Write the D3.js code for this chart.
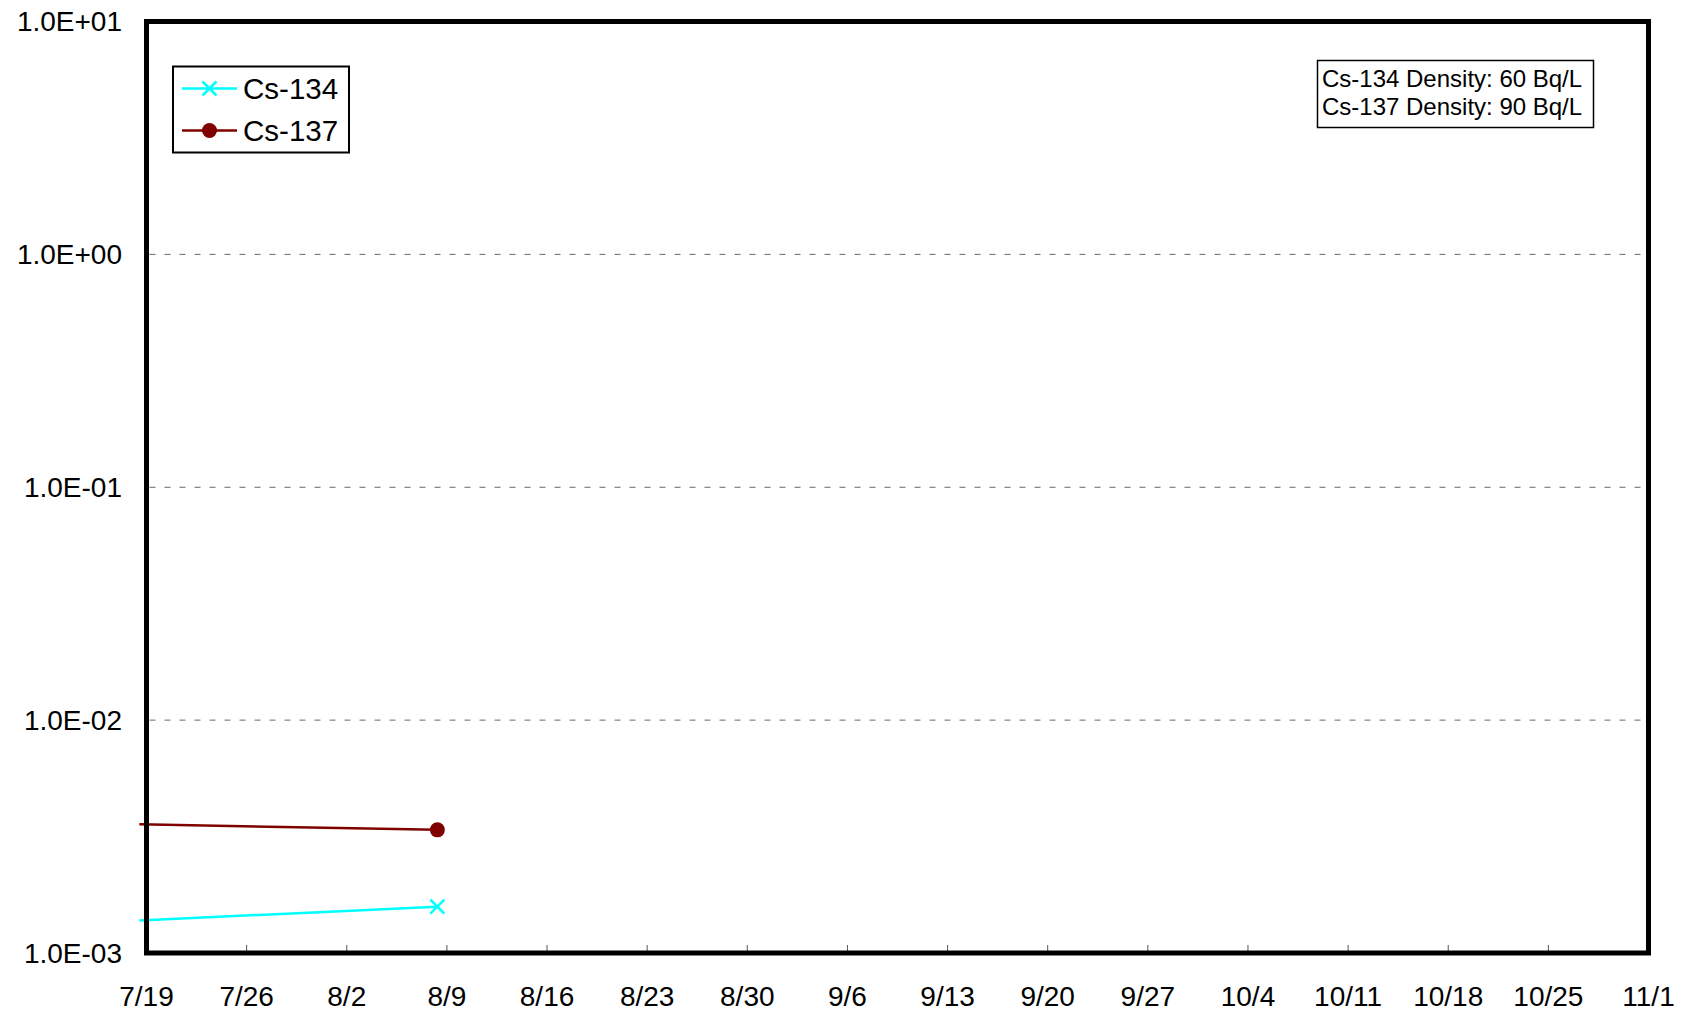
<!DOCTYPE html>
<html>
<head>
<meta charset="utf-8">
<script src="https://cdn.jsdelivr.net/npm/d3@7"></script>
<style>
  body { margin: 0; background: #fff; }
  text { font-family: "Liberation Sans", Arial, sans-serif; fill: #000; }
</style>
</head>
<body>
<svg id="chart" width="1681" height="1015"></svg>
<script>
"use strict";

// x axis: weekly ticks
var tick_labels = ["7/19","7/26","8/2","8/9","8/16","8/23","8/30","9/6","9/13","9/20","9/27","10/4","10/11","10/18","10/25","11/1"];
// y axis: decades
var y_ticks = [1e-3, 1e-2, 1e-1, 1e0, 1e1];

// measurements (first point sits just before the axis start)
var cs134_dates = ["2011-07-18T12:00", "2011-08-08T08:00"];
var cs134_values = [1.38e-3, 1.58e-3];
var cs137_dates = ["2011-07-18T12:00", "2011-08-08T08:00"];
var cs137_values = [3.57e-3, 3.38e-3];

var series_names = ["Cs-134", "Cs-137"];
var series_colors = ["#00ffff", "#800000"];
var note_lines = ["Cs-134 Density: 60 Bq/L", "Cs-137 Density: 90 Bq/L"];

var plot_left = 146.5, plot_right = 1648.5, plot_top = 21.5, plot_bottom = 953;

var parseTick = function(s) {
	var p = s.split("/");
	return new Date(2011, +p[0] - 1, +p[1]);
};
var tick_dates = tick_labels.map(parseTick);

var svg = d3.select("#chart");

var x = d3.scaleTime()
	.domain([tick_dates[0], tick_dates[tick_dates.length - 1]])
	.range([plot_left, plot_right]);

var y = d3.scaleLog()
	.domain([1e-3, 1e1])
	.range([plot_bottom, plot_top]);

var fmt = function(v) {
	var e = Math.round(Math.log10(v));
	return "1.0E" + (e < 0 ? "-" : "+") + (Math.abs(e) < 10 ? "0" : "") + Math.abs(e);
};

//gridlines
svg.append("g").selectAll("line")
	.data(y_ticks.slice(1, -1))
	.enter().append("line")
		.attr("x1", plot_left + 3).attr("x2", plot_right)
		.attr("y1", function(d) { return y(d); })
		.attr("y2", function(d) { return y(d); })
		.attr("stroke", "#666")
		.attr("stroke-width", 1)
		.attr("stroke-dasharray", "6,9");

//y labels
svg.append("g").selectAll("text")
	.data(y_ticks)
	.enter().append("text")
		.attr("x", 122)
		.attr("y", function(d) { return y(d); })
		.attr("dy", "0.35em")
		.attr("text-anchor", "end")
		.style("font-size", "28px")
		.text(fmt);

//x ticks (inside, pointing up)
svg.append("g").selectAll("line")
	.data(tick_dates)
	.enter().append("line")
		.attr("x1", function(d) { return x(d); })
		.attr("x2", function(d) { return x(d); })
		.attr("y1", plot_bottom - 8).attr("y2", plot_bottom)
		.attr("stroke", "#555")
		.attr("stroke-width", 1);

//x labels
svg.append("g").selectAll("text")
	.data(tick_dates)
	.enter().append("text")
		.attr("x", function(d) { return x(d); })
		.attr("y", 996)
		.attr("dy", "0.35em")
		.attr("text-anchor", "middle")
		.style("font-size", "28px")
		.text(function(d, i) { return tick_labels[i]; });

//series
var series = [
	{ name: series_names[0], color: series_colors[0], marker: "x",
		pts: cs134_dates.map(function(d, i) { return { date: new Date(d), v: cs134_values[i] }; }) },
	{ name: series_names[1], color: series_colors[1], marker: "dot",
		pts: cs137_dates.map(function(d, i) { return { date: new Date(d), v: cs137_values[i] }; }) }
];

var line = d3.line()
	.x(function(d) { return x(d.date); })
	.y(function(d) { return y(d.v); });

function drawMarker(g, type, color, cx, cy) {
	if (type == "x") {
		g.append("path")
			.attr("d", "M" + (cx - 7) + "," + (cy - 7) + "L" + (cx + 7) + "," + (cy + 7) +
				"M" + (cx - 7) + "," + (cy + 7) + "L" + (cx + 7) + "," + (cy - 7))
			.attr("stroke", color)
			.attr("stroke-width", 2.5)
			.attr("fill", "none");
	} else {
		g.append("circle")
			.attr("cx", cx).attr("cy", cy).attr("r", 7.5)
			.attr("fill", color);
	}
}

series.forEach(function(s) {
	var g = svg.append("g");
	g.append("path")
		.datum(s.pts)
		.attr("d", line)
		.attr("fill", "none")
		.attr("stroke", s.color)
		.attr("stroke-width", 2.5);
	s.pts.forEach(function(p) {
		if (p.date >= x.domain()[0]) drawMarker(g, s.marker, s.color, x(p.date), y(p.v));
	});
});

//plot frame
svg.append("rect")
	.attr("x", plot_left).attr("y", plot_top)
	.attr("width", plot_right - plot_left).attr("height", plot_bottom - plot_top)
	.attr("fill", "none")
	.attr("stroke", "#000")
	.attr("stroke-width", 5);

//legend
var lg = svg.append("g");
lg.append("rect")
	.attr("x", 173).attr("y", 66.5)
	.attr("width", 176).attr("height", 86)
	.attr("fill", "#fff")
	.attr("stroke", "#000")
	.attr("stroke-width", 2);
series.forEach(function(s, i) {
	var ly = 88.5 + i * 42;
	lg.append("line")
		.attr("x1", 182).attr("x2", 237)
		.attr("y1", ly).attr("y2", ly)
		.attr("stroke", s.color)
		.attr("stroke-width", 2.5);
	drawMarker(lg, s.marker, s.color, 209.5, ly);
	lg.append("text")
		.attr("x", 243)
		.attr("y", ly)
		.attr("dy", "0.36em")
		.style("font-size", "29.5px")
		.text(s.name);
});

//density note
var ng = svg.append("g");
ng.append("rect")
	.attr("x", 1317.5).attr("y", 60.5)
	.attr("width", 276).attr("height", 67)
	.attr("fill", "#fff")
	.attr("stroke", "#000")
	.attr("stroke-width", 1.5);
ng.selectAll("text")
	.data(note_lines)
	.enter().append("text")
		.attr("x", 1322)
		.attr("y", function(d, i) { return 78.5 + i * 28; })
		.attr("dy", "0.36em")
		.style("font-size", "24px")
		.text(function(d) { return d; });
</script>
</body>
</html>
